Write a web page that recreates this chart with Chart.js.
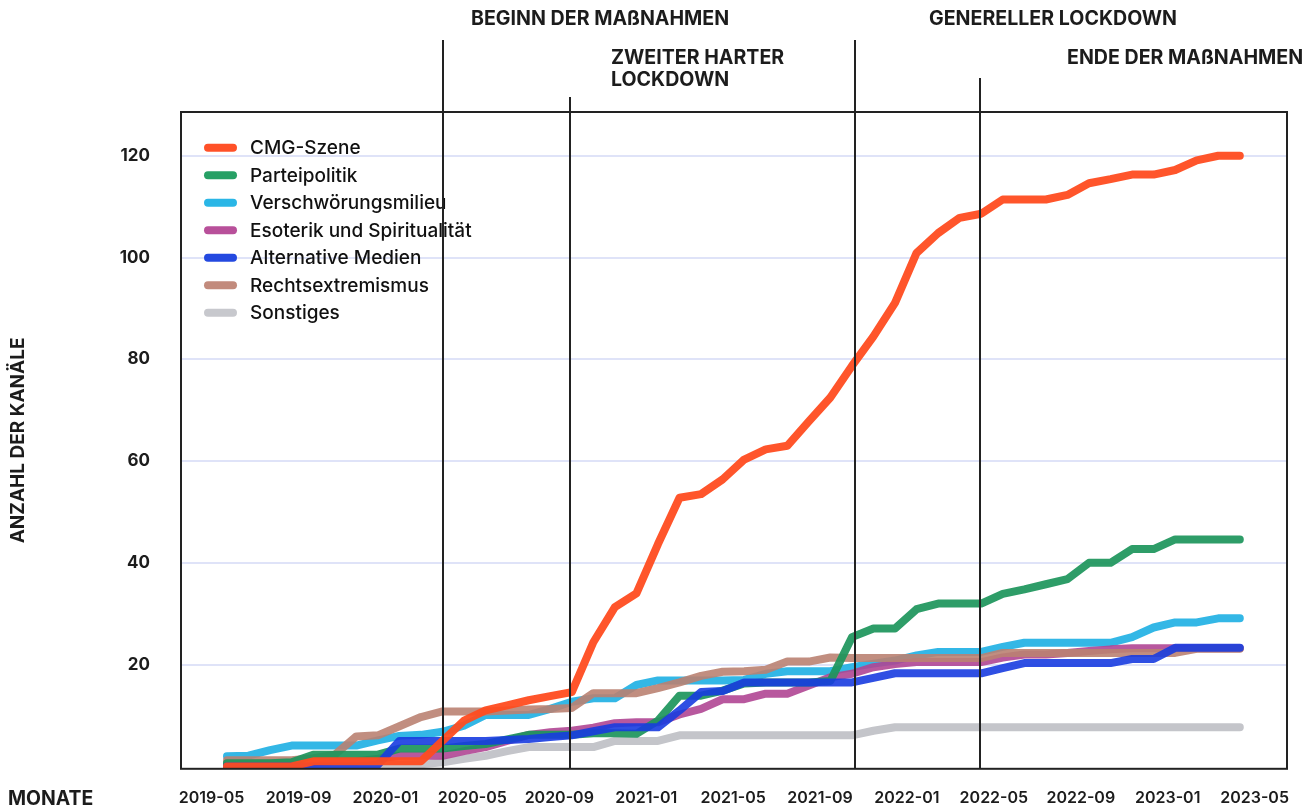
<!DOCTYPE html>
<html><head><meta charset="utf-8">
<script src="https://cdn.jsdelivr.net/npm/chart.js@4"></script>
<style>html,body{margin:0;padding:0;background:#fff}canvas{display:block}</style>
</head><body>
<canvas id="c" width="1314" height="810"></canvas>
<script>
// ---- data ----
const months = ['2019-05','2019-06','2019-07','2019-08','2019-09','2019-10','2019-11','2019-12',
 '2020-01','2020-02','2020-03','2020-04','2020-05','2020-06','2020-07','2020-08','2020-09','2020-10','2020-11','2020-12',
 '2021-01','2021-02','2021-03','2021-04','2021-05','2021-06','2021-07','2021-08','2021-09','2021-10','2021-11','2021-12',
 '2022-01','2022-02','2022-03','2022-04','2022-05','2022-06','2022-07','2022-08','2022-09','2022-10','2022-11','2022-12',
 '2023-01','2023-02','2023-03','2023-04'];
const tickLabels = ['2019-05','2019-09','2020-01','2020-05','2020-09','2021-01','2021-05','2021-09','2022-01','2022-05','2022-09','2023-01','2023-05'];
const seriesNames = ['CMG-Szene','Parteipolitik','Verschwörungsmilieu','Esoterik und Spiritualität','Alternative Medien','Rechtsextremismus','Sonstiges'];

const cmgSzene = [0,0,0,0,1,1,1,1,1,1, 5,9,11,12,13,13.8,14.6,24.4,31.3,34, 43.7,52.8,53.5,56.4,60.3,62.3,63,67.8,72.5,78.7, 84.5,91.1,100.9,104.8,107.8,108.6,111.4,111.4,111.4,112.3, 114.6,115.4,116.3,116.3,117.2,119.1,120,120];
const parteipolitik = [0.6,0.6,0.6,0.8,2.3,2.3,2.3,2.3,3.5,3.5, 3.5,4,4.4,5.3,6.2,6.2,6.2,6.5,6.5,6.4, 9,13.9,13.9,14.9,16.3,16.5,16.5,16.5,16.8,25.4, 27.1,27.1,30.9,32,32,32,33.9,34.8,35.8,36.8, 40,40,42.7,42.7,44.6,44.6,44.6,44.6];
const verschwoerung = [2,2.1,3.2,4.1,4.1,4.1,4.1,5.1,6,6.2, 6.8,8,10.1,10.1,10.1,11.3,12.7,13.4,13.4,16, 16.9,16.9,16.9,16.9,17,18.2,18.7,18.7,18.7,19.5, 20.2,20.8,21.8,22.5,22.5,22.5,23.5,24.3,24.3,24.3, 24.3,24.3,25.4,27.3,28.3,28.3,29.1,29.1];
const esoterik = [0.6,0.6,0.6,0.6,0.8,1,1,1.5,2.1,2.1, 2.1,3,3.8,5,6.2,6.7,7,7.6,8.5,8.7, 8.7,10.2,11.3,13.2,13.2,14.3,14.3,15.9,17.5,18.2, 19.5,20.1,20.5,20.5,20.5,20.5,21.4,22,22,22.3, 22.7,23,23.2,23.2,23.2,23.2,23.2,23.2];
const alternativeMedien = [0,0,0,0,0,0,0,0.3,5,5, 5,5,5,5.2,5.4,5.8,6.1,6.9,7.7,7.7, 7.7,11,14.6,14.8,16.5,16.5,16.5,16.5,16.5,16.5, 17.4,18.3,18.3,18.3,18.3,18.3,19.3,20.3,20.3,20.3, 20.3,20.3,21.1,21.1,23.3,23.3,23.3,23.3];
const rechtsextremismus = [1.2,1.2,1.2,1.2,1.6,2.3,5.9,6.1,7.9,9.7, 10.8,10.8,10.8,11,11.2,11.3,11.5,14.4,14.4,14.4, 15.4,16.5,17.8,18.6,18.7,19,20.6,20.6,21.4,21.3, 21.3,21.3,21.3,21.3,21.3,21.3,22.3,22.3,22.3,22.3, 22.3,22.3,22.3,22.3,22.3,23.1,23.1,23.1];
const sonstiges = [0.3,0.3,0.3,0.3,0.3,0.3,0.3,0.3,0.3,0.4, 0.8,1.5,2.1,3,3.8,3.8,3.8,3.8,5,5, 5,6.1,6.1,6.1,6.1,6.1,6.1,6.1,6.1,6.1, 7,7.7,7.7,7.7,7.7,7.7,7.7,7.7,7.7,7.7, 7.7,7.7,7.7,7.7,7.7,7.7,7.7,7.7];

const eventMonths = [10.04, 15.92, 29.14, 34.94];
const eventLabels = [['BEGINN DER MAßNAHMEN'], ['ZWEITER HARTER','LOCKDOWN'], ['GENERELLER LOCKDOWN'], ['ENDE DER MAßNAHMEN']];
const yTickValues = [20,40,60,80,100,120];

// ---- styling ----
const seriesValues = [cmgSzene, parteipolitik, verschwoerung, esoterik, alternativeMedien, rechtsextremismus, sonstiges];
const colors = ['rgba(255,76,32,0.95)','rgba(30,150,92,0.93)','rgba(36,178,228,0.93)','rgba(176,70,148,0.9)','rgba(24,60,224,0.9)','rgba(186,130,114,0.9)','rgba(196,197,202,1)'];
const legendColors = ['#ff5128','#27a065','#2ab6e6','#b8509a','#2449e0','#c28b7d','#c7c8cd'];
const drawOrder = [0,2,5,4,1,3,6];
const eventLayout = [
  {lineTop:40, textX:471, textY:19},
  {lineTop:97, textX:611, textY:58},
  {lineTop:40, textX:929, textY:19},
  {lineTop:78, textX:1067, textY:58}
];
const FONT = 'Inter, "Noto Sans", sans-serif';
const INK = '#1c1c1c';

const overlay = {
  id: 'overlay',
  afterDatasetsDraw(chart) {
    const {ctx, chartArea: a, scales} = chart;
    const x = scales.x;
    ctx.save();
    // legend
    ctx.textAlign = 'left';
    ctx.textBaseline = 'middle';
    ctx.font = '500 19px ' + FONT;
    chart.data.datasets.forEach((ds, i) => {
      const cy = 147.7 + i * 27.5;
      ctx.strokeStyle = legendColors[i];
      ctx.lineWidth = 8;
      ctx.lineCap = 'round';
      ctx.beginPath(); ctx.moveTo(208, cy); ctx.lineTo(233, cy); ctx.stroke();
      ctx.fillStyle = '#111';
      ctx.fillText(ds.label, 250, cy + 1);
    });
    // frame
    ctx.lineCap = 'butt';
    ctx.strokeStyle = '#222';
    ctx.lineWidth = 2;
    ctx.strokeRect(a.left, a.top, a.right - a.left, a.bottom - a.top);
    // event lines + labels
    ctx.font = '700 19.6px ' + FONT;
    ctx.fillStyle = INK;
    eventMonths.forEach((m, i) => {
      const px = Math.round(x.getPixelForValue(m));
      const L = eventLayout[i];
      ctx.beginPath(); ctx.moveTo(px, L.lineTop); ctx.lineTo(px, a.bottom); ctx.stroke();
      eventLabels[i].forEach((t, j) => ctx.fillText(t, L.textX, L.textY + j * 22));
    });
    // x axis title
    ctx.font = '700 19.4px ' + FONT;
    ctx.fillText('MONATE', 8, 799);
    ctx.restore();
  }
};

function build() {
  new Chart(document.getElementById('c'), {
    type: 'line',
    data: {
      datasets: seriesNames.map((n, i) => ({
        label: n,
        data: months.map((mo, k) => ({x: k, y: seriesValues[i][k]})),
        borderColor: colors[i],
        backgroundColor: colors[i],
        borderWidth: 8,
        pointRadius: 0,
        tension: 0,
        borderCapStyle: 'round',
        borderJoinStyle: 'round',
        order: drawOrder[i],
        xAxisID: 'x', yAxisID: 'y'
      }))
    },
    options: {
      responsive: false, animation: false, devicePixelRatio: 1,
      layout: {padding: {top: 112, right: 27, left: 0, bottom: 0}},
      plugins: {legend: {display: false}, tooltip: {enabled: false}},
      scales: {
        x: {type: 'linear', display: false, min: -2.135, max: 49.19},
        xl: {
          type: 'linear', position: 'bottom', min: -1.408, max: 49.49,
          grid: {display: false, drawTicks: false}, border: {display: false},
          afterBuildTicks: s => { s.ticks = tickLabels.map((t, i) => ({value: i * 4})); },
          afterFit: s => { s.height = 40; },
          ticks: {
            callback: v => tickLabels[Math.round(v / 4)],
            autoSkip: false, maxRotation: 0, minRotation: 0, padding: 19.4,
            color: INK, font: {family: FONT, size: 16, weight: '600'}
          }
        },
        y: {
          type: 'linear', position: 'left', min: -0.47, max: 128.6,
          afterBuildTicks: s => { s.ticks = yTickValues.map(v => ({value: v})); },
          afterFit: s => { s.width = 181; },
          grid: {color: '#dfe3f8', lineWidth: 2, drawTicks: false},
          border: {display: false},
          ticks: {padding: 31, color: INK, font: {family: FONT, size: 17, weight: '700'}},
          title: {display: true, text: 'ANZAHL DER KANÄLE', color: INK,
                  font: {family: FONT, size: 19, weight: '700'}, padding: {top: 6.6, bottom: 0}}
        }
      }
    },
    plugins: [overlay]
  });
}
if (document.fonts && document.fonts.load) {
  Promise.all([document.fonts.load('700 19px Inter'), document.fonts.load('500 19px Inter'), document.fonts.load('600 16px Inter')]).then(build, build);
} else build();
</script>
</body></html>
